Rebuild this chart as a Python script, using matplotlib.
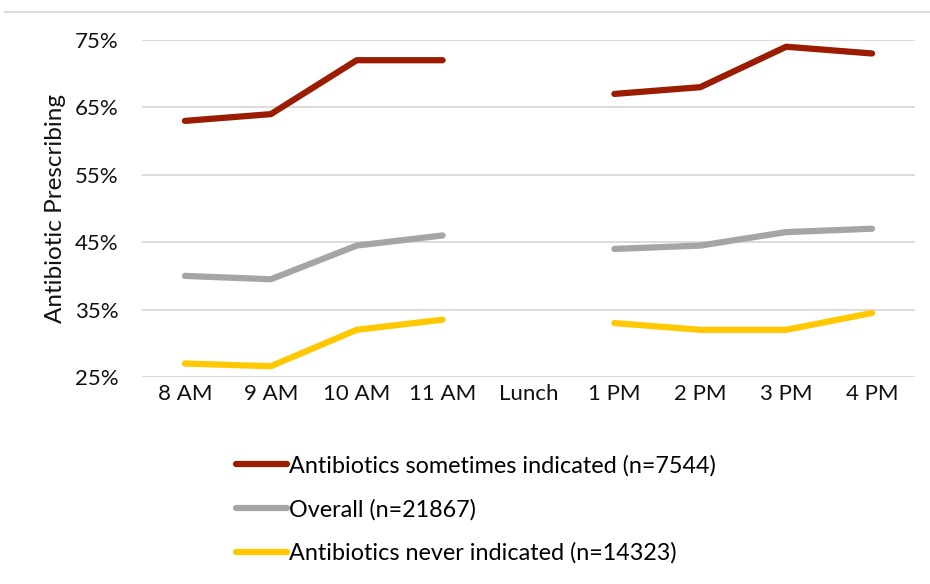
import numpy as np
import matplotlib.pyplot as plt
from matplotlib.lines import Line2D

plt.rcParams['font.family'] = ['Lato', 'DejaVu Sans']

# time slots, lunch has no data
hours = ['8 AM', '9 AM', '10 AM', '11 AM', 'Lunch', '1 PM', '2 PM', '3 PM', '4 PM']
sometimes = [63, 64, 72, 72, np.nan, 67, 68, 74, 73]
overall = [40, 39.5, 44.5, 46, np.nan, 44, 44.5, 46.5, 47]
never = [27, 26.6, 32, 33.5, np.nan, 33, 32, 32, 34.5]

labels = ['Antibiotics sometimes indicated (n=7544)',
          'Overall (n=21867)',
          'Antibiotics never indicated (n=14323)']
colors = ['#9b1c00', '#a5a5a5', '#ffc800']

fig = plt.figure(figsize=(9.3, 5.84), dpi=100)
ax = fig.add_axes([142/930, 1-377/584, (915-142)/930, (377-40)/584])

x = np.arange(len(hours))
for ys, lab, col in zip([sometimes, overall, never], labels, colors):
    ax.plot(x, ys, color=col, lw=4.5, solid_capstyle='round',
            solid_joinstyle='round', label=lab, clip_on=False)

ax.set_xlim(-0.5, len(hours) - 0.5)
ax.set_ylim(25, 75)
ax.set_yticks([25, 35, 45, 55, 65, 75])
ax.set_yticklabels(['25%', '35%', '45%', '55%', '65%', '75%'])
ax.set_xticks(x)
ax.set_xticklabels(hours)
ax.tick_params(axis='both', length=0, labelsize=16, colors='#111111')
ax.tick_params(axis='y', pad=17)
ax.tick_params(axis='x', pad=5)
ax.grid(axis='y', color='#d9d9d9', lw=1.3)
ax.set_axisbelow(True)
for s in ax.spines.values():
    s.set_visible(False)
ax.set_ylabel('Antibiotic Prescribing', fontsize=17.5, color='#111111')
ax.yaxis.set_label_coords(-(142-66)/773, 0.5)

# thin line across the top of the picture
fig.add_artist(Line2D([5/930, 1], [1-12/584, 1-12/584], color='#d9d9d9', lw=1.3))

fig.legend(loc='upper left', bbox_to_anchor=(236/930, 1-455/584), frameon=False,
           fontsize=16.8, handlelength=2.2, handletextpad=0.05, labelspacing=0.95,
           borderpad=0, borderaxespad=0)

fig.savefig('out.png', dpi=100)
